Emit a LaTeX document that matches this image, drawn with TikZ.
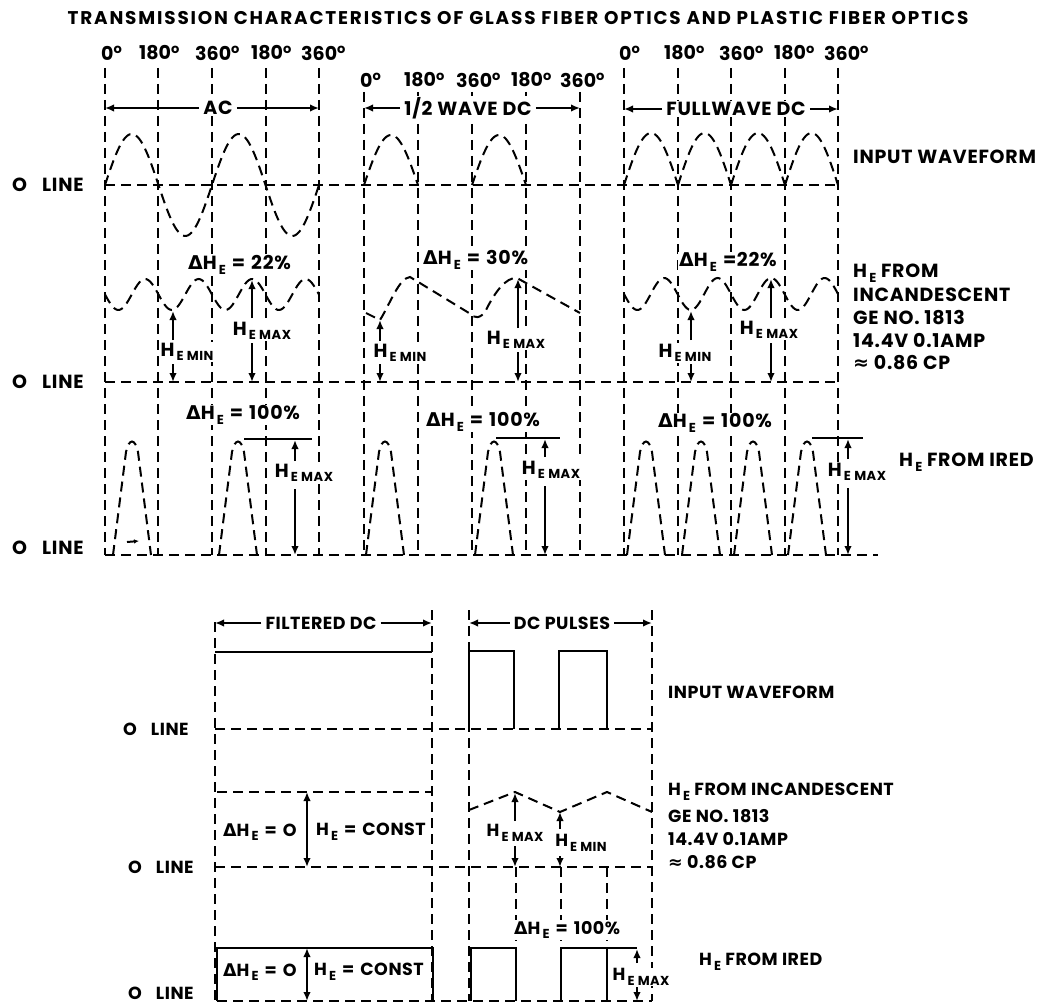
\documentclass[tikz,border=0pt]{standalone}
\usepackage{fontspec}
\setmainfont{Poppins}
\newfontfamily\dv{DejaVu Sans}
\usetikzlibrary{arrows.meta}
\newcommand\Hsub[1]{H\raisebox{-4.5pt}{\fontsize{13}{13}\selectfont\bfseries\,#1}}
\newcommand\Dl{{\dv\bfseries Δ}}
\newcommand\Dg{\raisebox{6.5pt}{\fontsize{13}{13}\selectfont\bfseries o}}
\newcommand\Apx{{\dv\bfseries ≈}}
\newcommand\Eq{\hspace{6pt}=\hspace{6pt}}
\newcommand\darrow[6]{%
  \coordinate (#1t) at (#2,#3); \coordinate (#1a) at (#2,#4);
  \coordinate (#1b) at (#2,#5); \coordinate (#1z) at (#2,#6);
  \draw[arr] (#1a) -- (#1t); \draw[arr] (#1b) -- (#1z);}
\newcommand\hump[2]{% centre x, baseline y
  \draw[dl] (#1-19,#2) -- (#1-6,#2-103) .. controls (#1-3,#2-117) and (#1+3,#2-117) .. (#1+6,#2-103) -- (#1+19,#2);}
\begin{document}
\begin{tikzpicture}[x=1pt,y=-1pt,
  dl/.style={line width=2pt, dash pattern=on 10pt off 6pt},
  sl/.style={line width=2pt},
  arr/.style={line width=2pt,-{Latex[length=9pt,width=7.5pt]}},
  darr/.style={line width=2pt,{Latex[length=9pt,width=7.5pt]}-{Latex[length=9pt,width=7.5pt]}},
  deg/.style={font=\fontsize{19}{22}\bfseries, inner sep=1pt, fill=white, anchor=west},
  lab/.style={font=\fontsize{19}{22}\bfseries\addfontfeatures{LetterSpace=4}, inner sep=1pt, fill=white, anchor=west},
  labc/.style={font=\fontsize{19}{22}\bfseries\addfontfeatures{LetterSpace=4}, inner sep=1pt, fill=white},
  sml/.style={font=\fontsize{17.5}{20}\bfseries\addfontfeatures{LetterSpace=3}, inner sep=1pt, fill=white, anchor=west},
  smlc/.style={font=\fontsize{17.5}{20}\bfseries\addfontfeatures{LetterSpace=3}, inner sep=1pt, fill=white},
  ttl/.style={font=\fontsize{18.4}{21}\bfseries\addfontfeatures{LetterSpace=10}, inner sep=0pt}]
\useasboundingbox (0,0) rectangle (1055,1006);

% title
\node[ttl] (title) at (518,18) {TRANSMISSION CHARACTERISTICS OF GLASS FIBER OPTICS AND PLASTIC FIBER OPTICS};

% vertical dashed lines top
\foreach \x in {105,158,212,266,319} \draw[dl] (\x,68) -- (\x,555);
\foreach \x in {364,418,472,526,580} \draw[dl] (\x,92) -- (\x,555);
\foreach \x in {624,678,731,785,838} \draw[dl] (\x,68) -- (\x,555);

% degree labels
\node[deg] (d1) at (100,53) {0\Dg};
\node[deg] (d2) at (138,53) {180\Dg};
\node[deg] (d3) at (194,53) {360\Dg};
\node[deg] (d4) at (250,53) {180\Dg};
\node[deg] (d5) at (300,53) {360\Dg};
\node[deg] (h1) at (359,80) {0\Dg};
\node[deg] (h2) at (403,80) {180\Dg};
\node[deg] (h3) at (455,80) {360\Dg};
\node[deg] (h4) at (510,80) {180\Dg};
\node[deg] (h5) at (559,80) {360\Dg};
\node[deg] (f1) at (618,53) {0\Dg};
\node[deg] (f2) at (663,53) {180\Dg};
\node[deg] (f3) at (718,53) {360\Dg};
\node[deg] (f4) at (773,53) {180\Dg};
\node[deg] (f5) at (823,53) {360\Dg};

% range arrows top
\node[labc] (ac) at (218,108) {AC};
\coordinate (acL) at (105,108); \coordinate (acR) at (319,108);
\draw[arr] (ac.west) ++(-3,0) -- (acL);
\draw[arr] (ac.east) ++(3,0) -- (acR);
\node[labc] (hw) at (468,108) {1/2 WAVE DC};
\coordinate (hwL) at (364,108); \coordinate (hwR) at (580,108);
\draw[arr] (hw.west) ++(-3,0) -- (hwL);
\draw[arr] (hw.east) ++(3,0) -- (hwR);
\node[labc] (fw) at (736,109) {FULLWAVE DC};
\coordinate (fwL) at (624,109); \coordinate (fwR) at (838,109);
\draw[arr] (fw.west) ++(-3,0) -- (fwL);
\draw[arr] (fw.east) ++(3,0) -- (fwR);

% zero lines top
\node[lab] (z1) at (11,185) {O\hspace{15pt}LINE};
\node[lab] (z2) at (11,382) {O\hspace{15pt}LINE};
\node[lab] (z3) at (11,548) {O\hspace{15pt}LINE};
\draw[dl] (105,185) -- (838,185);
\draw[dl] (105,382) -- (838,382);
\draw[dl] (105,555) -- (878,555);

% input waveforms
\draw[dl] plot[domain=105:319,samples=120] (\x,{185-51*sin((\x-105)/107*360)});
\draw[dl] plot[domain=364:418,samples=40] (\x,{185-50*sin((\x-364)/54*180)});
\draw[dl] plot[domain=472:526,samples=40] (\x,{185-50*sin((\x-472)/54*180)});
\foreach \a/\b in {624/678,678/731,731/785,785/838}
  \draw[dl] plot[domain=\a:\b,samples=40] (\x,{185-52*sin((\x-\a)/(\b-\a)*180)});
\node[lab] (in1) at (852,157) {INPUT WAVEFORM};

% incandescent row top
\draw[dl] plot[domain=105:319,samples=120] (\x,{294.5+15.5*sin((\x-105)/53.5*360)});
\draw[dl] plot[domain=624:838,samples=120] (\x,{294+16*sin((\x-624)/53.5*360)});
\draw[dl] (366,313) -- (380,320) .. controls (390,304) and (399,278) .. (410,277)
  -- (469,313) .. controls (474,319) and (481,319) .. (486,310)
  .. controls (495,292) and (506,277) .. (517,278) -- (580,313);

\node[lab] (dac2) at (187,265) {\Dl\Hsub{E}\Eq22\%};
\node[lab] (dhw2) at (422,260) {\Dl\Hsub{E}\Eq30\%};
\node[lab] (dfw2) at (678,262) {\Dl\Hsub{E}\hspace{6pt}=22\%};

\node[labc] (acmin) at (187,352) {\Hsub{E MIN}};
\darrow{acmn}{173}{311}{340}{364}{382}
\node[labc] (acmax) at (262,331) {\Hsub{E MAX}};
\darrow{acmx}{252}{280}{318}{343}{382}
\node[labc] (hwmin) at (400,353) {\Hsub{E MIN}};
\darrow{hwmn}{380}{320}{341}{364}{382}
\node[labc] (hwmax) at (516,340) {\Hsub{E MAX}};
\darrow{hwmx}{518}{279}{328}{352}{382}
\node[labc] (fwmin) at (685,353) {\Hsub{E MIN}};
\darrow{fwmn}{691}{311}{340}{364}{382}
\node[labc] (fwmax) at (769,330) {\Hsub{E MAX}};
\darrow{fwmx}{771}{279}{318}{343}{382}

\node[lab] (inc1) at (852,273) {\Hsub{E} FROM};
\node[lab] (inc2) at (852,295) {INCANDESCENT};
\node[lab] (inc3) at (852,318) {GE NO. 1813};
\node[lab] (inc4) at (852,340) {14.4V 0.1AMP};
\node[lab] (inc5) at (852,363) {\Apx\ 0.86 CP};

% IRED row top
\hump{132}{555}
\hump{238}{555}
\hump{385}{555}
\hump{494}{555}
\hump{646}{555}
\hump{701}{555}
\hump{753}{555}
\hump{807}{555}
\coordinate (tk1) at (127,542); \coordinate (tk2) at (139,541);
\draw[line width=2pt,-{Latex[length=5pt,width=4.5pt]}] (tk1) -- (tk2);

\node[lab] (dac3) at (185,415) {\Dl\Hsub{E}\Eq100\%};
\node[lab] (dhw3) at (425,422) {\Dl\Hsub{E}\Eq100\%};
\node[lab] (dfw3) at (657,423) {\Dl\Hsub{E}\Eq100\%};

\coordinate (l1a) at (244,439); \coordinate (l1b) at (312,439);
\draw[sl] (l1a) -- (l1b);
\node[labc] (acimax) at (304,473) {\Hsub{E MAX}};
\darrow{acim}{295}{440}{461}{489}{555}
\coordinate (l2a) at (496,438); \coordinate (l2b) at (560,438);
\draw[sl] (l2a) -- (l2b);
\node[labc] (hwimax) at (551,470) {\Hsub{E MAX}};
\darrow{hwim}{545}{439}{457}{486}{555}
\coordinate (l3a) at (812,438); \coordinate (l3b) at (863,438);
\draw[sl] (l3a) -- (l3b);
\node[labc] (fwimax) at (857,472) {\Hsub{E MAX}};
\darrow{fwim}{848}{439}{459}{488}{555}
\node[lab] (ired1) at (898,462) {\Hsub{E} FROM IRED};

% ================= bottom section
\draw[dl] (215,622) -- (215,1001);
\draw[dl] (432,610) -- (432,1001);
\draw[dl] (469,610) -- (469,1001);
\draw[dl] (652,610) -- (652,1001);

\node[smlc] (fdc) at (321,623) {FILTERED DC};
\coordinate (fdcL) at (215,623); \coordinate (fdcR) at (432,623);
\draw[arr] (fdc.west) ++(-3,0) -- (fdcL);
\draw[arr] (fdc.east) ++(3,0) -- (fdcR);
\node[smlc] (dcp) at (562,623) {DC PULSES};
\coordinate (dcpL) at (469,623); \coordinate (dcpR) at (652,623);
\draw[arr] (dcp.west) ++(-3,0) -- (dcpL);
\draw[arr] (dcp.east) ++(3,0) -- (dcpR);

% row 1
\draw[sl] (215,652) -- (432,652);
\draw[sl] (469,729) -- (469,651) -- (514,651) -- (514,729);
\draw[sl] (559,729) -- (559,651) -- (607,651) -- (607,729);
\draw[dl] (215,729) -- (652,729);
\node[sml] (bz1) at (122,729) {O\hspace{14pt}LINE};
\node[sml] (in2) at (667,692) {INPUT WAVEFORM};

% row 2
\draw[dl] (217,792) -- (432,792);
\draw[dl] (215,867) -- (652,867);
\coordinate (c1t) at (307,792); \coordinate (c1b) at (307,867);
\draw[darr] (c1t) -- (c1b);
\node[sml] (dz1) at (222,832) {\Dl\Hsub{E}\Eq O};
\node[sml] (cs1) at (315,832) {\Hsub{E}\Eq CONST};
\node[sml] (bz2) at (127,867) {O\hspace{14pt}LINE};
\draw[dl] (469,810) -- (515,792) -- (560,812) -- (607,792) -- (652,812);
\node[smlc] (pmax) at (515,833) {\Hsub{E MAX}};
\darrow{pmx}{515}{793}{821}{846}{867}
\node[smlc] (pmin) at (581,843) {\Hsub{E MIN}};
\darrow{pmn}{560}{812}{829}{856}{867}
\node[sml] (binc1) at (667,792) {\Hsub{E} FROM INCANDESCENT};
\node[sml] (binc2) at (667,816) {GE NO. 1813};
\node[sml] (binc3) at (667,839) {14.4V 0.1AMP};
\node[sml] (binc4) at (667,862) {\Apx\ 0.86 CP};

% row 3
\foreach \x in {516,561,607} \draw[dl] (\x,867) -- (\x,948);
\draw[sl] (217,1001) -- (217,948) -- (433,948) -- (433,1001);
\draw[dl] (217,1001) -- (652,1001);
\draw[sl] (471,1001) -- (471,948) -- (516,948) -- (516,1001);
\draw[sl] (561,1001) -- (561,948) -- (607,948) -- (607,1001);
\coordinate (l4a) at (607,948); \coordinate (l4b) at (637,948);
\draw[sl] (l4a) -- (l4b);
\node[sml] (dz2) at (222,972) {\Dl\Hsub{E}\Eq O};
\node[sml] (cs2) at (313,972) {\Hsub{E}\Eq CONST};
\coordinate (c2t) at (307,948); \coordinate (c2b) at (307,1001);
\draw[darr] (c2t) -- (c2b);
\node[sml] (bz3) at (127,993) {O\hspace{14pt}LINE};
\node[sml] (d100b) at (513,930) {\Dl\Hsub{E}\Eq100\%};
\node[smlc] (bimax) at (641,977) {\Hsub{E MAX}};
\darrow{bim}{637}{949}{963}{987}{1001}
\node[sml] (ired2) at (698,962) {\Hsub{E} FROM IRED};
\end{tikzpicture}
\end{document}
